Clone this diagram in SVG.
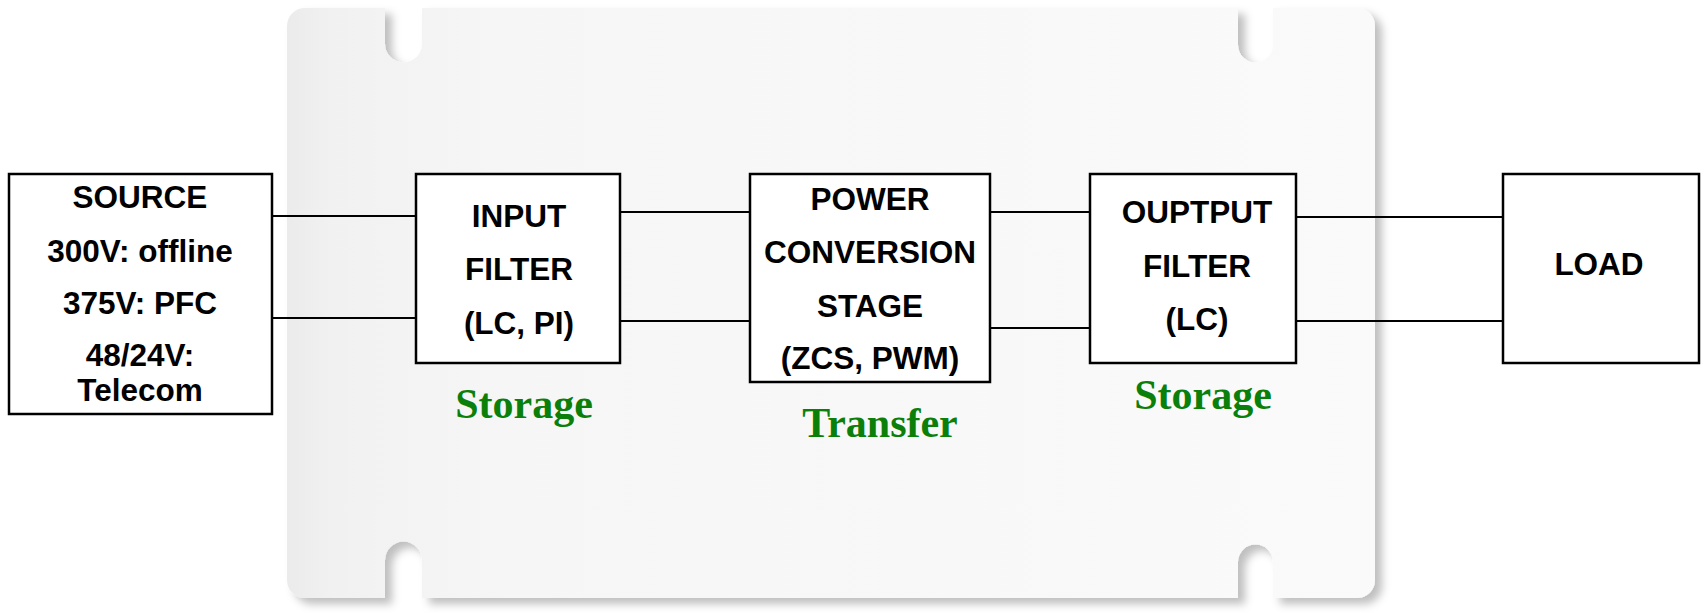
<svg xmlns="http://www.w3.org/2000/svg" width="1701" height="613" viewBox="0 0 1701 613">
<style>
.box{fill:#fff;stroke:#000;stroke-width:2.5}
.t{font-family:"Liberation Sans",Arial,sans-serif;font-weight:bold;font-size:31.5px;fill:#000;text-anchor:middle}
.g{font-family:"Liberation Serif","Times New Roman",serif;font-weight:bold;font-size:42px;fill:#0a7f0a;text-anchor:middle}
.w{stroke:#000;stroke-width:2;fill:none}
</style>
<defs>
<linearGradient id="cardg" x1="0" y1="0" x2="1" y2="0">
<stop offset="0" stop-color="#ebebeb"/>
<stop offset="0.04" stop-color="#f1f1f1"/>
<stop offset="0.2" stop-color="#f6f6f6"/>
<stop offset="1" stop-color="#fafafa"/>
</linearGradient>
<filter id="sh" x="-5%" y="-5%" width="115%" height="115%">
<feDropShadow dx="7" dy="6" stdDeviation="4" flood-color="#000" flood-opacity="0.25"/>
</filter>
</defs>
<rect width="1701" height="613" fill="#fff"/>
<g id="card">
<path filter="url(#sh)" fill="url(#cardg)" d="M305 8 L385 8 L385 44 A18.5 18.5 0 0 0 422 44 L422 8 L1238 8 L1238 45 A17.5 17.5 0 0 0 1273 45 L1273 8 L1357 8 A18 18 0 0 1 1375 26 L1375 580 A18 18 0 0 1 1357 598 L1273 598 L1273 562 A17.5 17.5 0 0 0 1238 562 L1238 598 L422 598 L422 560 A18.5 18.5 0 0 0 385 560 L385 598 L305 598 A18 18 0 0 1 287 580 L287 26 A18 18 0 0 1 305 8 Z"/>
</g>
<g id="connectors">
<line class="w" x1="272" y1="216" x2="416" y2="216"/>
<line class="w" x1="272" y1="318" x2="416" y2="318"/>
<line class="w" x1="620" y1="212" x2="750" y2="212"/>
<line class="w" x1="620" y1="321" x2="750" y2="321"/>
<line class="w" x1="990" y1="212" x2="1090" y2="212"/>
<line class="w" x1="990" y1="328" x2="1090" y2="328"/>
<line class="w" x1="1296" y1="217" x2="1503" y2="217"/>
<line class="w" x1="1296" y1="321" x2="1503" y2="321"/>
</g>
<g id="source">
<rect class="box" x="9" y="174" width="263" height="240"/>
<text class="t" x="140" y="208">SOURCE</text>
<text class="t" x="140" y="262">300V: offline</text>
<text class="t" x="140" y="314">375V: PFC</text>
<text class="t" x="140" y="366">48/24V:</text>
<text class="t" x="140" y="401">Telecom</text>
</g>
<g id="input-filter">
<rect class="box" x="416" y="174" width="204" height="189"/>
<text class="t" x="519" y="227">INPUT</text>
<text class="t" x="519" y="280">FILTER</text>
<text class="t" x="519" y="334">(LC, PI)</text>
</g>
<g id="storage-1">
<text class="g" x="524" y="418">Storage</text>
</g>
<g id="power-conversion">
<rect class="box" x="750" y="174" width="240" height="208"/>
<text class="t" x="870" y="210">POWER</text>
<text class="t" x="870" y="263">CONVERSION</text>
<text class="t" x="870" y="317">STAGE</text>
<text class="t" x="870" y="369">(ZCS, PWM)</text>
</g>
<g id="transfer">
<text class="g" x="880" y="437">Transfer</text>
</g>
<g id="output-filter">
<rect class="box" x="1090" y="174" width="206" height="189"/>
<text class="t" x="1197" y="223">OUPTPUT</text>
<text class="t" x="1197" y="277">FILTER</text>
<text class="t" x="1197" y="330">(LC)</text>
</g>
<g id="storage-2">
<text class="g" x="1203" y="409">Storage</text>
</g>
<g id="load">
<rect class="box" x="1503" y="174" width="196" height="189"/>
<text class="t" x="1599" y="275">LOAD</text>
</g>
</svg>
